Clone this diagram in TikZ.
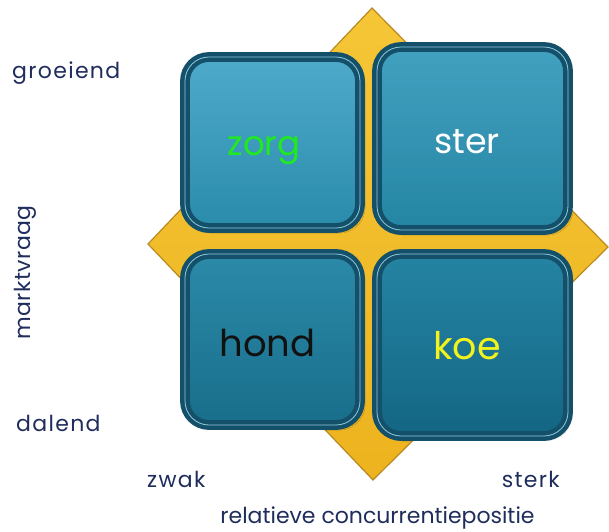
\documentclass[tikz,border=0pt]{standalone}
\usepackage{fontspec}
\setmainfont{Poppins}
\usetikzlibrary{shadows.blur}
\definecolor{navy}{HTML}{1F2D5C}
\definecolor{goldfill}{HTML}{EDB31F}
\definecolor{golddark}{HTML}{B98A22}
\definecolor{goldlight}{HTML}{F6C637}
\definecolor{tileedge}{HTML}{15506A}
\definecolor{tilehi}{HTML}{8FCBDF}
\definecolor{zorggreen}{HTML}{1FEA1F}
\definecolor{koeyellow}{HTML}{F2F21E}
\definecolor{zorgtop}{HTML}{4FAACA}
\definecolor{zorgbot}{HTML}{2A8BAB}
\definecolor{stertop}{HTML}{43A1C0}
\definecolor{sterbot}{HTML}{2485A3}
\definecolor{hondtop}{HTML}{2B8AA8}
\definecolor{hondbot}{HTML}{186E8B}
\definecolor{koetop}{HTML}{2584A3}
\definecolor{koebot}{HTML}{136684}
\definecolor{hondtext}{HTML}{111111}
\tikzset{
  axislabel/.style={text=navy, font=\fontsize{22}{25}\selectfont\addfontfeature{LetterSpace=#1}, inner sep=0pt},
  axislabel/.default=6,
  tile/.style={draw=tileedge, line width=4.5pt, double=tilehi, double distance=0.8pt,
    rounded corners=24pt, inner sep=0pt,
    blur shadow={shadow xshift=3pt, shadow yshift=-3pt, shadow blur steps=6, shadow opacity=40}},
  tilelabel/.style={inner sep=0pt, font=\fontsize{#1}{#1}\selectfont},
}
\begin{document}
\begin{tikzpicture}[x=1pt,y=-1pt]
\useasboundingbox (0,0) rectangle (609,531);

% gold diamond behind the four tiles
\coordinate (dtop) at (372,8);
\coordinate (dright) at (608,247);
\coordinate (dbottom) at (373,480);
\coordinate (dleft) at (148,244);
\path[top color=goldlight, bottom color=goldfill, draw=golddark, line width=1.2pt, line join=miter]
  (dtop) -- (dright) -- (dbottom) -- (dleft) -- cycle;

% the four tiles
\node[tile, top color=zorgtop, bottom color=zorgbot, minimum width=175pt, minimum height=171pt]
  (zorg) at (272.5,142.5) {};
\node[tile, top color=stertop, bottom color=sterbot, minimum width=191pt, minimum height=183pt]
  (ster) at (472.5,138.5) {};
\node[tile, top color=hondtop, bottom color=hondbot, minimum width=175pt, minimum height=171pt]
  (hond) at (272.5,339.5) {};
\node[tile, top color=koetop, bottom color=koebot, minimum width=191pt, minimum height=182pt]
  (koe) at (472.5,345) {};

% tile labels
\node[tilelabel=34, text=zorggreen, anchor=base] (zorgtext) at (264,155) {zorg};
\node[tilelabel=35, text=white, anchor=base] (stertext) at (467,153) {ster};
\node[tilelabel=37, text=hondtext, anchor=base] (hondtext) at (267.5,356) {hond};
\node[tilelabel=38, text=koeyellow, anchor=base] (koetext) at (467,359) {koe};

% axis labels
\node[axislabel, anchor=base west] (groeiend) at (12,78) {groeiend};
\node[axislabel, anchor=base west] (dalend) at (16,431) {dalend};
\node[axislabel=2, rotate=90, anchor=base] (marktvraag) at (30,272.5) {marktvraag};
\node[axislabel, anchor=base west] (zwak) at (147,487) {zwak};
\node[axislabel, anchor=base east] (sterk) at (560,487) {sterk};
\node[axislabel=0, anchor=base] (relatief) at (377.5,523) {relatieve concurrentiepositie};
\end{tikzpicture}
\end{document}
